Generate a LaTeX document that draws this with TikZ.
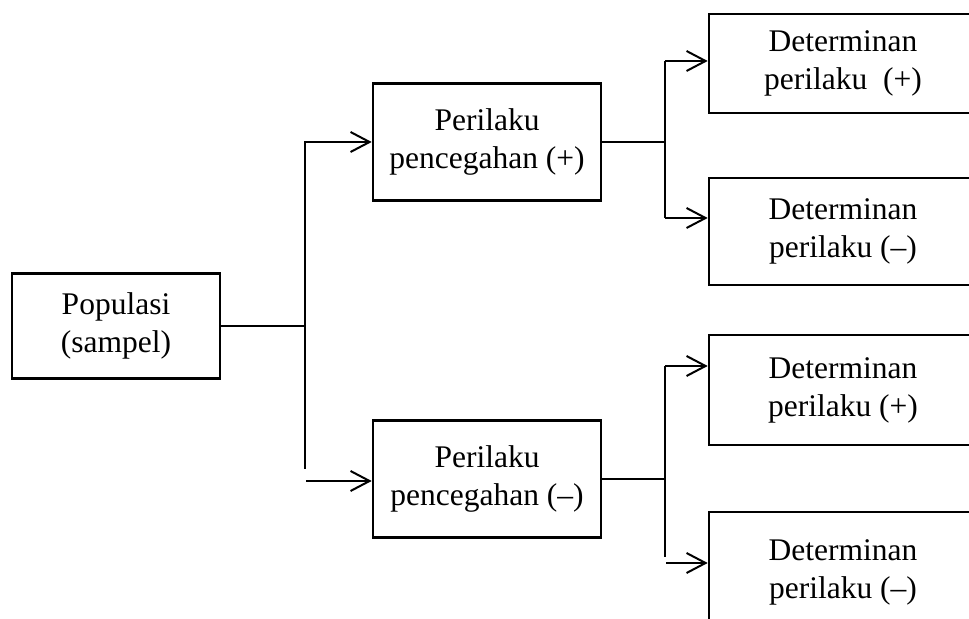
\documentclass[tikz,border=0pt]{standalone}
\usepackage{fontspec}
\setmainfont{Liberation Serif}
\usetikzlibrary{arrows.meta}

\begin{document}
\begin{tikzpicture}[x=0.5pt, y=-0.5pt,
    box/.style={draw, line width=1.3pt, align=center, inner sep=0pt,
        font=\fontsize{15.75}{19}\selectfont},
    link/.style={line width=1pt},
    arr/.style={link, -{Straight Barb[length=9.5pt, width=10pt]}}]
  \useasboundingbox (0,0) rectangle (969,619);
  \clip (0,0) rectangle (969,619);

  % populasi
  \node[box, minimum width=104pt, minimum height=52.5pt] (pop) at (116,326) {Populasi\\(sampel)};

  % perilaku pencegahan
  \node[box, minimum width=114pt, minimum height=58.5pt] (mid1) at (487,142) {Perilaku\\pencegahan (+)};
  \node[box, minimum width=114pt, minimum height=58.5pt] (mid2) at (487,479) {Perilaku\\pencegahan (--)};

  % determinan perilaku
  \node[box, minimum width=134pt, minimum height=49.5pt] (r1) at (843,63.5) {Determinan\\perilaku\ \ (+)};
  \node[box, minimum width=134pt, minimum height=53.5pt] (r2) at (843,231.5) {Determinan\\perilaku (--)};
  \node[box, minimum width=134pt, minimum height=55pt] (r3) at (843,390) {Determinan\\perilaku (+)};
  \node[box, minimum width=134pt, minimum height=60pt] (r4) at (843,572) {Determinan\\perilaku (--)};

  % cabang pertama
  \coordinate (j0) at (305,326);
  \coordinate (j0end) at (305,469);
  \coordinate (j0low) at (306,481);
  \draw[link] (pop.east) -- (j0);
  \draw[arr] (j0) |- (mid1.west);
  \draw[link] (j0) -- (j0end);
  \draw[arr] (j0low) -- (j0low -| mid2.west);

  % cabang atas
  \coordinate (j1) at (665,142);
  \coordinate (j1top) at (665,61);
  \coordinate (j1bot) at (665,218);
  \draw[link] (mid1.east) -- (j1);
  \draw[link] (j1top) -- (j1bot);
  \draw[arr] (j1top) -- (j1top -| r1.west);
  \draw[arr] (j1bot) -- (j1bot -| r2.west);

  % cabang bawah
  \coordinate (j2) at (665,479);
  \coordinate (j2top) at (665,366);
  \coordinate (j2end) at (665,557);
  \coordinate (j2low) at (666,563);
  \draw[link] (mid2.east) -- (j2);
  \draw[link] (j2top) -- (j2end);
  \draw[arr] (j2top) -- (j2top -| r3.west);
  \draw[arr] (j2low) -- (j2low -| r4.west);
\end{tikzpicture}
\end{document}
